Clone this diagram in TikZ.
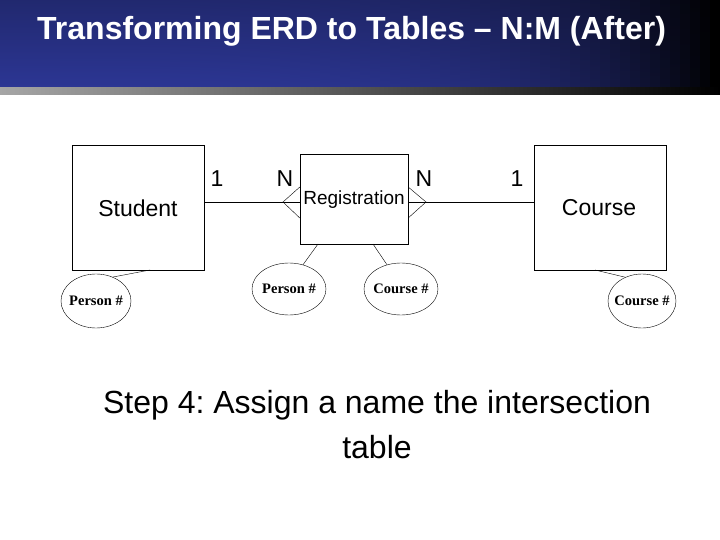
\documentclass[tikz,border=0pt]{standalone}
\usepackage{fontspec}
\usetikzlibrary{shapes.geometric}
\setmainfont{Liberation Sans}
\newfontfamily\tms{Liberation Serif}
\definecolor{hb}{RGB}{44,54,148}
\begin{document}
\frenchspacing
\begin{tikzpicture}[x=1pt,y=-1pt,
  attr/.style={draw,ellipse,font=\tms\bfseries\fontsize{14.5}{16}\selectfont,inner xsep=-6pt,inner ysep=0pt},
  lbl/.style={font=\fontsize{23}{25}\selectfont}]
\useasboundingbox (0,0) rectangle (720,540);
\foreach \i in {0,...,71}{
  \pgfmathsetmacro{\f}{100*(1-(\i/71)^4)}
  \pgfmathsetmacro{\g}{75*(1-(\i/71)^4)}
  \shade[top color=hb!\g!black,bottom color=hb!\f!black] (\i*10,0) rectangle (\i*10+10.5,88);
}
\shade[left color=black!35,right color=black] (0,88) rectangle (720,95);
\node[text=white,font=\bfseries\fontsize{32}{34}\selectfont,anchor=west,inner sep=0pt] (title) at (37,31) {Transforming ERD to Tables -- N:M (After)};
% entities
\node[draw,minimum width=132pt,minimum height=125pt,inner sep=0pt] (stu) at (138,207.5) {};
\node[lbl] (stut) at (138,208) {Student};
\node[draw,minimum width=108pt,minimum height=90pt,inner sep=0pt] (reg) at (354,199) {};
\node[font=\fontsize{19}{21}\selectfont] (regt) at (354,200) {Registration};
\node[draw,minimum width=132pt,minimum height=125pt,inner sep=0pt] (crs) at (600,207.5) {};
\node[lbl] (crst) at (599,208) {Course};
% attributes
\node[attr,minimum width=70pt,minimum height=54pt] (a1) at (96,301) {Person \#};
\node[attr,minimum width=74pt,minimum height=52pt] (a2) at (289,289) {Person \#};
\node[attr,minimum width=74pt,minimum height=52pt] (a3) at (401,289) {Course \#};
\node[attr,minimum width=68pt,minimum height=54pt] (a4) at (642,301) {Course \#};
% relationships
\coordinate (t1) at (283,202);
\coordinate (t2) at (426,202);
\draw (stu.east |- t1) -- (reg.west |- t1);
\draw (reg.west |- 0,187) -- (t1) -- (reg.west |- 0,218);
\draw (reg.east |- t2) -- (crs.west |- t2);
\draw (reg.east |- 0,187) -- (t2) -- (reg.east |- 0,218);
\draw (150,270) -- (a1.55);
\draw (318,244) -- (a2.60);
\draw (373,244) -- (a3.120);
\draw (595,270) -- (a4.125);
\node[lbl] (l1) at (217,179) {1};
\node[lbl] (l2) at (285,179) {N};
\node[lbl] (l3) at (424,179) {N};
\node[lbl] (l4) at (517,179) {1};
\node[font=\fontsize{32}{45}\selectfont,align=center] (step) at (377,425) {Step 4: Assign a name the intersection\\table};
\end{tikzpicture}
\end{document}
